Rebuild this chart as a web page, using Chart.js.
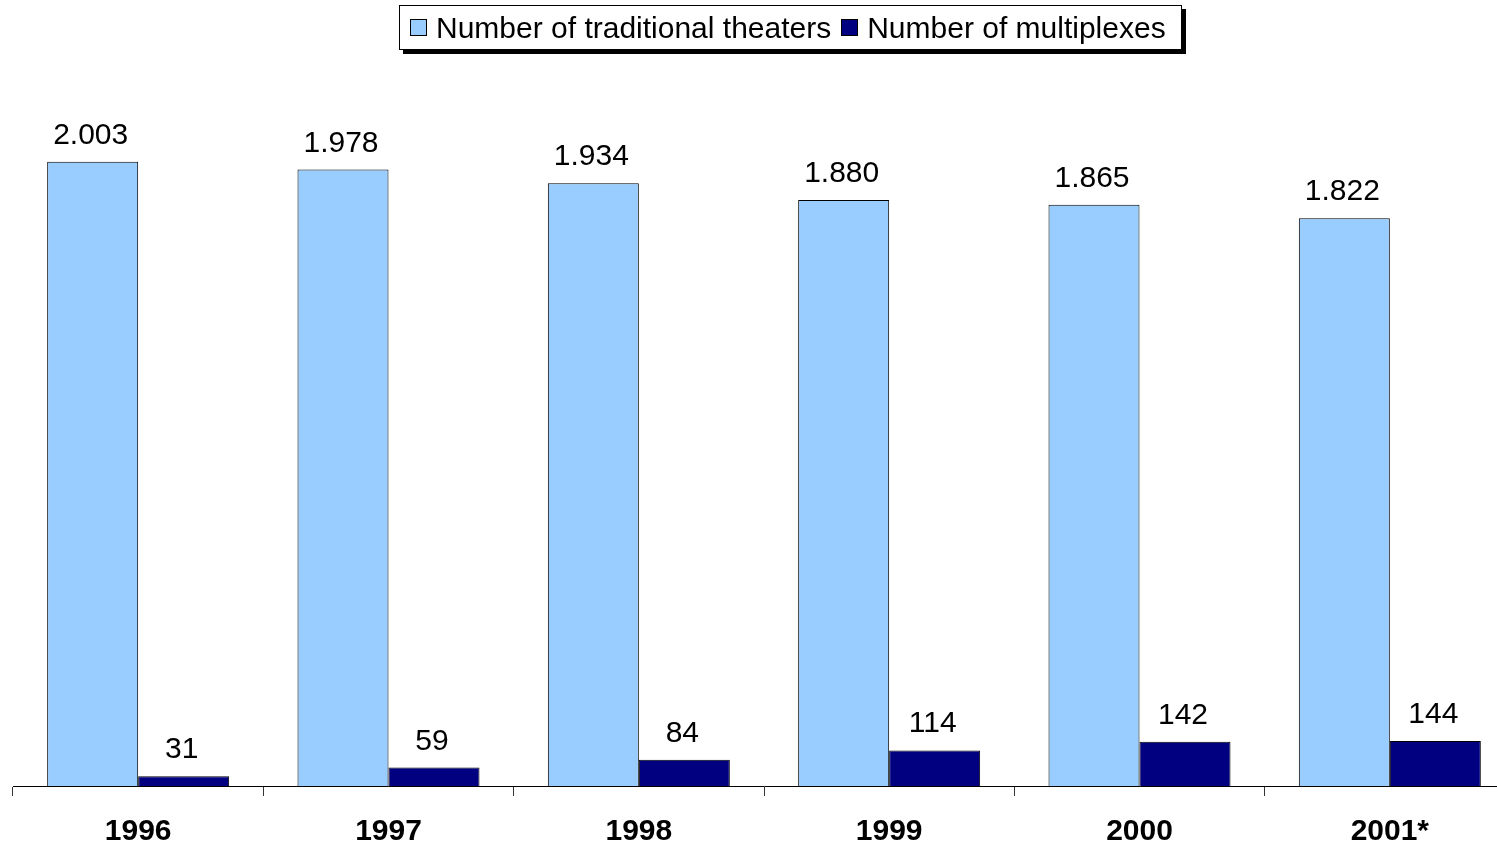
<!DOCTYPE html>
<html>
<head>
<meta charset="utf-8">
<script src="https://cdn.jsdelivr.net/npm/chart.js@4.4.1/dist/chart.umd.min.js"></script>
<style>
  html, body { margin: 0; padding: 0; background: #fff; overflow: hidden; width: 1497px; height: 847px; }
  #wrap { position: absolute; left: 0; top: 0; width: 1530px; height: 847px; }
  #legend {
    position: absolute; left: 399px; top: 5px; width: 781px; height: 43px;
    border: 1px solid #000; background: #fff; box-shadow: 4px 4px 0 #000;
    font-family: Arial, "Liberation Sans", sans-serif; font-size: 30px; color: #000;
    display: flex; align-items: center; white-space: nowrap;
  }
  #legend .item { display: flex; align-items: center; }
  #legend .sw { width: 15px; height: 15px; border: 1px solid #000; margin: 0 9px 0 10px; }
</style>
</head>
<body>
<div id="wrap">
  <canvas id="chart" width="1530" height="847"></canvas>
</div>
<div id="legend"></div>
<script>
  var YEARS = ["1996", "1997", "1998", "1999", "2000", "2001*"];
  var TRADITIONAL = [2003, 1978, 1934, 1880, 1865, 1822];
  var MULTIPLEXES = [31, 59, 84, 114, 142, 144];
  var SERIES_NAMES = ["Number of traditional theaters", "Number of multiplexes"];
  var COLORS = ["#99ccff", "#000080"];

  function fmt(v) {
    return String(v).replace(/\B(?=(\d{3})+(?!\d))/g, ".");
  }

  // legend built as html, box with the hard shadow
  var legend = document.getElementById("legend");
  SERIES_NAMES.forEach(function (name, i) {
    var item = document.createElement("div");
    item.className = "item";
    var sw = document.createElement("span");
    sw.className = "sw";
    sw.style.background = COLORS[i];
    item.appendChild(sw);
    item.appendChild(document.createTextNode(name));
    legend.appendChild(item);
  });

  var valueLabels = {
    id: "valueLabels",
    afterDatasetsDraw: function (chart) {
      var ctx = chart.ctx;
      ctx.save();
      ctx.font = "30px Arial, 'Liberation Sans', sans-serif";
      ctx.fillStyle = "#000";
      ctx.textAlign = "center";
      ctx.textBaseline = "alphabetic";
      chart.data.datasets.forEach(function (ds, di) {
        chart.getDatasetMeta(di).data.forEach(function (bar, i) {
          ctx.fillText(fmt(ds.data[i]), bar.x - 2, bar.y - 18);
        });
      });
      ctx.restore();
    }
  };

  new Chart(document.getElementById("chart"), {
    type: "bar",
    data: {
      labels: YEARS,
      datasets: [
        { label: SERIES_NAMES[0], data: TRADITIONAL, backgroundColor: COLORS[0], borderColor: "#000", borderWidth: 1 },
        { label: SERIES_NAMES[1], data: MULTIPLEXES, backgroundColor: COLORS[1], borderColor: "#000", borderWidth: 1 }
      ]
    },
    options: {
      responsive: false,
      animation: false,
      devicePixelRatio: 1,
      layout: { padding: { top: 38, left: 13, right: 15, bottom: 0 } },
      datasets: { bar: { categoryPercentage: 0.727, barPercentage: 1 } },
      plugins: { legend: { display: false }, tooltip: { enabled: false } },
      scales: {
        x: {
          grid: { offset: true, drawOnChartArea: false, drawTicks: true, tickLength: 10, color: "#333" },
          border: { display: true, color: "#000", width: 1 },
          ticks: {
            color: "#000",
            padding: 18,
            maxRotation: 0,
            font: { family: "Arial, 'Liberation Sans', sans-serif", size: 30, weight: "bold" }
          },
          afterFit: function (scale) { scale.height = 61; }
        },
        y: { display: false, min: 0, max: 2400 }
      }
    },
    plugins: [valueLabels]
  });
</script>
</body>
</html>
